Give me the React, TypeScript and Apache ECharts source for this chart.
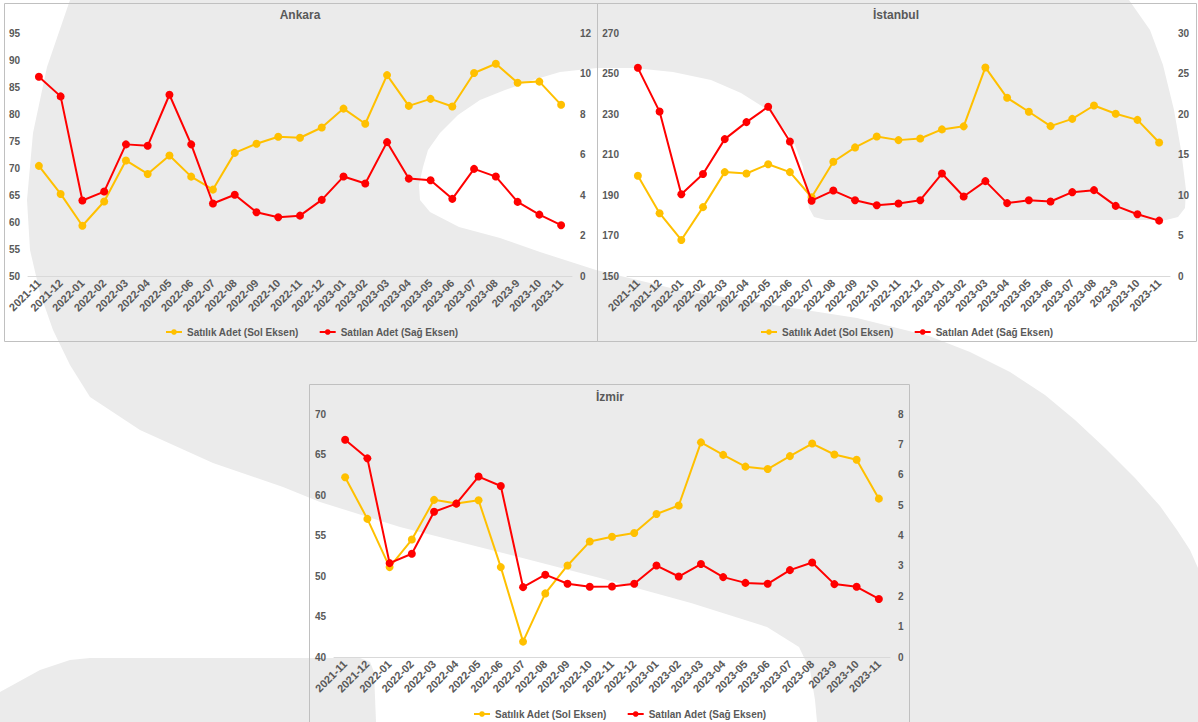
import React, { useEffect, useRef } from "react";
import * as echarts from "echarts";

// ---------- DATA ----------
const months = [
  "2021-11", "2021-12", "2022-01", "2022-02", "2022-03", "2022-04", "2022-05",
  "2022-06", "2022-07", "2022-08", "2022-09", "2022-10", "2022-11", "2022-12",
  "2023-01", "2023-02", "2023-03", "2023-04", "2023-05", "2023-06", "2023-07",
  "2023-08", "2023-9", "2023-10", "2023-11",
];

const ankaraSatilik = [70.4, 65.2, 59.3, 63.8, 71.4, 68.9, 72.3, 68.4, 66.0, 72.8, 74.5, 75.8, 75.6, 77.5, 81.0, 78.2, 87.2, 81.5, 82.8, 81.4, 87.6, 89.3, 85.8, 86.0, 81.7];
const ankaraSatilan = [9.84, 8.87, 3.73, 4.17, 6.5, 6.43, 8.95, 6.5, 3.58, 4.01, 3.15, 2.9, 2.98, 3.76, 4.91, 4.57, 6.61, 4.81, 4.73, 3.81, 5.29, 4.91, 3.66, 3.03, 2.51];

const istanbulSatilik = [199.5, 181, 167.8, 184, 201.3, 200.6, 205.2, 201.3, 188.9, 206.4, 213.5, 218.9, 217.1, 217.9, 222.4, 223.9, 253, 238, 231.1, 224, 227.6, 234.2, 230.1, 227.1, 215.9];
const istanbulSatilan = [25.7, 20.3, 10.1, 12.6, 16.9, 19.0, 20.9, 16.6, 9.3, 10.55, 9.36, 8.74, 8.95, 9.36, 12.65, 9.81, 11.71, 9.0, 9.36, 9.2, 10.35, 10.6, 8.66, 7.63, 6.84];

const izmirSatilik = [62.2, 57.05, 51.1, 54.5, 59.4, 58.95, 59.35, 51.1, 41.9, 47.85, 51.3, 54.25, 54.85, 55.3, 57.65, 58.7, 66.5, 64.95, 63.5, 63.2, 64.8, 66.35, 65.0, 64.35, 59.55];
const izmirSatilan = [7.15, 6.54, 3.09, 3.4, 4.78, 5.05, 5.94, 5.63, 2.3, 2.71, 2.41, 2.31, 2.32, 2.41, 3.01, 2.65, 3.06, 2.63, 2.44, 2.41, 2.86, 3.11, 2.4, 2.31, 1.91];

const titles = ["Ankara", "İstanbul", "İzmir"];
const leftAxisRanges = [[50, 95, 5], [150, 270, 20], [40, 70, 5]];
const rightAxisRanges = [[0, 12, 2], [0, 30, 5], [0, 8, 1]];
const NAME_SATILIK = "Satılık Adet (Sol Eksen)";
const NAME_SATILAN = "Satılan Adet (Sağ Eksen)";

// ---------- STYLE / LAYOUT ----------
const FONT = '"Liberation Sans", Arial, sans-serif';
const LABEL = "#595959";
const YELLOW = "#FFC000";
const RED = "#FF0000";
const WM = "#ebebeb";

const panels = [
  { box: [4, 3, 593, 338], grid: { left: 28, top: 33, width: 544, height: 243 }, titleX: 300, titleY: 15, legendLeft: 160, legendTop: 322 },
  { box: [597, 3, 599, 338], grid: { left: 627, top: 33, width: 543, height: 243 }, titleX: 896, titleY: 15, legendLeft: 755, legendTop: 322 },
  { box: [309, 384, 600, 400], grid: { left: 334, top: 414, width: 556, height: 243 }, titleX: 610, titleY: 397, legendLeft: 468, legendTop: 704 },
];

const watermarkMain = [
  [70, 0], [1129, 0], [1150, 30], [1163, 65], [1174, 110], [1181, 150], [1186, 190], [1185, 208], [1178, 217], [1166, 220],
  [826, 220], [814, 217], [809, 208], [807, 195], [803, 167], [795, 145], [787, 133], [768, 110], [741, 93], [711, 80], [673, 72], [634, 68], [597, 68],
  [560, 72], [533, 80], [505, 90], [480, 100], [458, 115], [440, 133], [428, 150], [423, 167], [419, 185], [420, 200], [430, 212], [459, 227], [500, 238], [540, 252], [596, 270],
  [679, 290], [786, 307], [857, 318], [929, 336], [970, 352], [1010, 372], [1045, 395], [1075, 420], [1105, 448], [1135, 478], [1160, 506], [1177, 530], [1190, 550], [1198, 568],
  [1198, 722], [817, 722], [815, 700], [810, 670], [799, 647], [767, 627], [691, 603], [600, 578], [499, 552], [400, 527], [320, 502], [283, 487], [213, 463], [140, 430], [90, 397], [70, 365], [53, 330], [40, 293], [30, 250], [27, 200], [33, 133], [47, 67],
];
const watermarkBottom = [
  [0, 692], [40, 670], [70, 660], [90, 658], [360, 658], [370, 662], [374, 672], [376, 722], [0, 722],
];

export default function App() {
  const ref = useRef<HTMLDivElement>(null);

  useEffect(() => {
    if (!ref.current) return;
    const chart = echarts.init(ref.current, undefined, { renderer: "svg" });

    const satilik = [ankaraSatilik, istanbulSatilik, izmirSatilik];
    const satilan = [ankaraSatilan, istanbulSatilan, izmirSatilan];

    const labelStyle = { color: LABEL, fontSize: 10, fontWeight: "bold" as const, fontFamily: FONT };

    const grids: any[] = [];
    const xAxes: any[] = [];
    const yAxes: any[] = [];
    const series: any[] = [];
    const legends: any[] = [];
    const graphics: any[] = [
      { type: "polygon", z: -10, silent: true, shape: { points: watermarkMain }, style: { fill: WM } },
      { type: "polygon", z: -10, silent: true, shape: { points: watermarkBottom }, style: { fill: WM } },
    ];

    panels.forEach((p, i) => {
      grids.push({ ...p.grid, show: false, containLabel: false });
      xAxes.push({
        type: "category",
        gridIndex: i,
        data: months,
        boundaryGap: true,
        axisLine: { show: true, lineStyle: { color: "#d9d9d9", width: 1 } },
        axisTick: { show: false },
        splitLine: { show: false },
        axisLabel: { ...labelStyle, fontSize: 11, interval: 0, rotate: 45, margin: 5 },
      });
      const [lmin, lmax, lint] = leftAxisRanges[i];
      const [rmin, rmax, rint] = rightAxisRanges[i];
      yAxes.push({
        type: "value", gridIndex: i, position: "left", min: lmin, max: lmax, interval: lint,
        axisLine: { show: false }, axisTick: { show: false }, splitLine: { show: false },
        axisLabel: { ...labelStyle, margin: 8 },
      });
      yAxes.push({
        type: "value", gridIndex: i, position: "right", min: rmin, max: rmax, interval: rint,
        axisLine: { show: false }, axisTick: { show: false }, splitLine: { show: false },
        axisLabel: { ...labelStyle, margin: 8 },
      });
      series.push({
        type: "line", name: NAME_SATILIK, xAxisIndex: i, yAxisIndex: i * 2, data: satilik[i],
        symbol: "circle", symbolSize: 8, showSymbol: true,
        lineStyle: { width: 2, color: YELLOW }, itemStyle: { color: YELLOW }, z: 3,
      });
      series.push({
        type: "line", name: NAME_SATILAN, xAxisIndex: i, yAxisIndex: i * 2 + 1, data: satilan[i],
        symbol: "circle", symbolSize: 8, showSymbol: true,
        lineStyle: { width: 2, color: RED }, itemStyle: { color: RED }, z: 4,
      });
      legends.push({
        data: [NAME_SATILIK, NAME_SATILAN],
        left: p.legendLeft, top: p.legendTop, orient: "horizontal",
        itemWidth: 16, itemHeight: 7, itemGap: 20,
        textStyle: { ...labelStyle },
        selectedMode: false,
      });
      graphics.push({
        type: "rect", z: 1, silent: true,
        shape: { x: p.box[0] + 0.5, y: p.box[1] + 0.5, width: p.box[2], height: p.box[3] },
        style: { fill: "none", stroke: "#c0c0c0", lineWidth: 1 },
      });
      graphics.push({
        type: "text", z: 5, x: p.titleX, y: p.titleY,
        style: { text: titles[i], align: "center", verticalAlign: "middle", font: `bold 12px ${FONT}`, fill: LABEL },
      });
    });

    chart.setOption({
      animation: false,
      backgroundColor: "#ffffff",
      textStyle: { fontFamily: FONT },
      grid: grids,
      xAxis: xAxes,
      yAxis: yAxes,
      series,
      legend: legends,
      graphic: graphics,
    });

    return () => chart.dispose();
  }, []);

  return (
    <div
      ref={ref}
      style={{ position: "fixed", left: 0, top: 0, width: 1198, height: 722, background: "#fff" }}
    />
  );
}
